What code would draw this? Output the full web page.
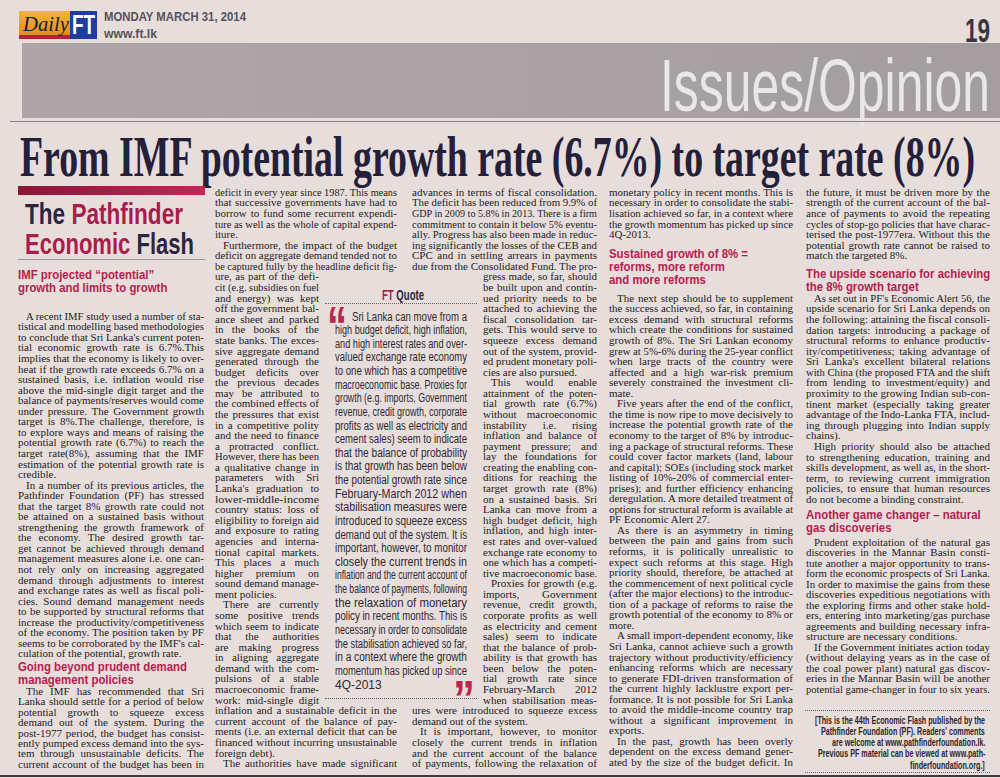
<!DOCTYPE html>
<html><head><meta charset="utf-8">
<script src="https://cdn.jsdelivr.net/npm/chart.js@4.4.1/dist/chart.umd.min.js"></script>
<style>
html,body{margin:0;padding:0;background:#e7ddda;}
#page{position:relative;width:1000px;height:778px;overflow:hidden;background:#e7ddda;}
.a{position:absolute;white-space:nowrap;transform-origin:0 50%;}
.body{font-family:"Liberation Serif","Times New Roman",serif;font-size:11px;color:#221e27;}
.hd{font-family:"Liberation Sans",Arial,sans-serif;font-weight:bold;font-size:13px;color:#b4214e;}
.qt{font-family:"Liberation Sans Narrow","Liberation Sans",Arial,sans-serif;font-size:12px;color:#2e2a33;}
.note{font-family:"Liberation Sans Narrow","Liberation Sans",Arial,sans-serif;font-weight:bold;font-size:10px;color:#2a2833;}
.box{font-family:"Liberation Sans",Arial,sans-serif;font-weight:bold;font-size:30px;color:#2b2540;}
.red{color:#a81d4a;}
.headline{font-family:"Liberation Serif","Times New Roman",serif;font-weight:bold;font-size:56px;color:#25203a;}
.sect{font-family:"Liberation Sans",Arial,sans-serif;font-size:74px;color:#ebe7e9;}
.date{font-family:"Liberation Sans",Arial,sans-serif;font-weight:bold;font-size:12.5px;color:#55515c;}
.site{font-family:"Liberation Sans",Arial,sans-serif;font-weight:bold;font-size:12px;color:#55515c;}
.pg{font-family:"Liberation Sans",Arial,sans-serif;font-weight:bold;font-size:34px;color:#38363e;}
.ftlogo{font-family:"Liberation Sans",Arial,sans-serif;font-weight:bold;font-size:28px;color:#ffffff;}
.daily{font-family:"Liberation Serif","Times New Roman",serif;font-style:italic;font-size:22px;color:#1c1a3a;}
.ftq{font-family:"Liberation Sans",Arial,sans-serif;font-weight:bold;font-size:15px;color:#2b2540;}
.qm{font-family:"Liberation Sans",Arial,sans-serif;font-weight:bold;font-size:52px;color:#b8284e;}
.rule{position:absolute;}
</style>
</head><body><div id="page"></div>
<script>
// ---------- text data ----------
const dateText = "MONDAY MARCH 31, 2014";
const siteText = "www.ft.lk";
const logoText = ["Daily", "FT"];
const pageNumber = "19";
const sectionText = "Issues/Opinion";
const headline = "From IMF potential growth rate (6.7%) to target rate (8%)";
const flashTitle1 = ["The ", "Pathfinder"];
const flashTitle2 = ["Economic ", "Flash"];

const col1Head1 = ["IMF projected “potential”", "growth and limits to growth"];
const col1Paras1 = [
 ["A recent IMF study used a number of sta-","tistical and modelling based methodologies","to conclude that Sri Lanka's current poten-","tial economic growth rate is 6.7%.This","implies that the economy is likely to over-","heat if the growth rate exceeds 6.7% on a","sustained basis, i.e. inflation would rise","above the mid-single digit target and the","balance of payments/reserves would come","under pressure. The Government growth","target is 8%.The challenge, therefore, is","to explore ways and means of raising the","potential growth rate (6.7%) to reach the","target rate(8%), assuming that the IMF","estimation of the potential growth rate is","credible."],
 ["In a number of its previous articles, the","Pathfinder Foundation (PF) has stressed","that the target 8% growth rate could not","be attained on a sustained basis without","strengthening the growth framework of","the economy. The desired growth tar-","get cannot be achieved through demand","management measures alone i.e. one can-","not rely only on increasing aggregated","demand through adjustments to interest","and exchange rates as well as fiscal poli-","cies. Sound demand management needs","to be supported by structural reforms that","increase the productivity/competitiveness","of the economy. The position taken by PF","seems to be corroborated by the IMF's cal-","culation of the potential, growth rate."]
];
const col1Head2 = ["Going beyond prudent demand", "management policies"];
const col1Paras2 = [
 ["The IMF has recommended that Sri","Lanka should settle for a period of below","potential growth to squeeze excess","demand out of the system. During the","post-1977 period, the budget has consist-","ently pumped excess demand into the sys-","tem through unsustainable deficits. The","current account of the budget has been in"]
];

const col2Paras = [
 ["deficit in every year since 1987. This means","that successive governments have had to","borrow to fund some recurrent expendi-","ture as well as the whole of capital expend-","iture."],
 ["Furthermore, the impact of the budget","deficit on aggregate demand tended not to","be captured fully by the headline deficit fig-","ure, as part of the defi-","cit (e.g. subsidies on fuel","and energy) was kept","off the government bal-","ance sheet and parked","in the books of the","state banks. The exces-","sive aggregate demand","generated through the","budget deficits over","the previous decades","may be attributed to","the combined effects of","the pressures that exist","in a competitive polity","and the need to finance","a protracted conflict.","However, there has been","a qualitative change in","parameters with Sri","Lanka's graduation to","lower-middle-income","country status: loss of","eligibility to foreign aid","and exposure to rating","agencies and interna-","tional capital markets.","This places a much","higher premium on","sound demand manage-","ment policies."],
 ["There are currently","some positive trends","which seem to indicate","that the authorities","are making progress","in aligning aggregate","demand with the com-","pulsions of a stable","macroeconomic frame-","work: mid-single digit","inflation and a sustainable deficit in the","current account of the balance of pay-","ments (i.e. an external deficit that can be","financed without incurring unsustainable","foreign debt)."],
 ["The authorities have made significant"]
];

const col3Paras = [
 ["advances in terms of fiscal consolidation.","The deficit has been reduced from 9.9% of","GDP in 2009 to 5.8% in 2013. There is a firm","commitment to contain it below 5% eventu-","ally. Progress has also been made in reduc-","ing significantly the losses of the CEB and","CPC and in settling arrears in payments","due from the Consolidated Fund. The pro-","gress made, so far, should","be built upon and contin-","ued priority needs to be","attached to achieving the","fiscal consolidation tar-","gets. This would serve to","squeeze excess demand","out of the system, provid-","ed prudent monetary poli-","cies are also pursued."],
 ["This would enable","attainment of the poten-","tial growth rate (6.7%)","without macroeconomic","instability i.e. rising","inflation and balance of","payment pressure; and","lay the foundations for","creating the enabling con-","ditions for reaching the","target growth rate (8%)","on a sustained basis. Sri","Lanka can move from a","high budget deficit, high","inflation, and high inter-","est rates and over-valued","exchange rate economy to","one which has a competi-","tive macroeconomic base."],
 ["Proxies for growth (e.g.","imports, Government","revenue, credit growth,","corporate profits as well","as electricity and cement","sales) seem to indicate","that the balance of prob-","ability is that growth has","been below the poten-","tial growth rate since","February-March 2012","when stabilisation meas-","ures were introduced to squeeze excess","demand out of the system."],
 ["It is important, however, to monitor","closely the current trends in inflation","and the current account of the balance","of payments, following the relaxation of"]
];

const quoteLines = ["Sri Lanka can move from a","high budget deficit, high inflation,","and high interest rates and over-","valued exchange rate economy","to one which has a competitive","macroeconomic base. Proxies for","growth (e.g. imports, Government","revenue, credit growth, corporate","profits as well as electricity and","cement sales) seem to indicate","that the balance of probability","is that growth has been below","the potential growth rate since","February-March 2012 when","stabilisation measures were","introduced to squeeze excess","demand out of the system. It is","important, however, to monitor","closely the current trends in","inflation and the current account of","the balance of payments, following","the relaxation of monetary","policy in recent months. This is","necessary in order to consolidate","the stabilisation achieved so far,","in a context where the growth","momentum has picked up since","4Q-2013"];
const quoteTitle = ["FT", " Quote"];
const quoteMarks = ["“", "”"];

const col4Paras1 = [["monetary policy in recent months. This is","necessary in order to consolidate the stabi-","lisation achieved so far, in a context where","the growth momentum has picked up since","4Q-2013."]];
const col4Head = ["Sustained growth of 8% =","reforms, more reform","and more reforms"];
const col4Paras2 = [
 ["The next step should be to supplement","the success achieved, so far, in containing","excess demand with structural reforms","which create the conditions for sustained","growth of 8%. The Sri Lankan economy","grew at 5%-6% during the 25-year conflict","when large tracts of the country were","affected and a high war-risk premium","severely constrained the investment cli-","mate."],
 ["Five years after the end of the conflict,","the time is now ripe to move decisively to","increase the potential growth rate of the","economy to the target of 8% by introduc-","ing a package of structural reforms. These","could cover factor markets (land, labour","and capital); SOEs (including stock market","listing of 10%-20% of commercial enter-","prises); and further efficiency enhancing","deregulation. A more detailed treatment of","options for structural reform is available at","PF Economic Alert 27."],
 ["As there is an asymmetry in timing","between the pain and gains from such","reforms, it is politically unrealistic to","expect such reforms at this stage. High","priority should, therefore, be attached at","the commencement of next political cycle","(after the major elections) to the introduc-","tion of a package of reforms to raise the","growth potential of the economy to 8% or","more."],
 ["A small import-dependent economy, like","Sri Lanka, cannot achieve such a growth","trajectory without productivity/efficiency","enhancing reforms which are necessary","to generate FDI-driven transformation of","the current highly lacklustre export per-","formance. It is not possible for Sri Lanka","to avoid the middle-income country trap","without a significant improvement in","exports."],
 ["In the past, growth has been overly","dependent on the excess demand gener-","ated by the size of the budget deficit. In"]
];

const col5Paras1 = [["the future, it must be driven more by the","strength of the current account of the bal-","ance of payments to avoid the repeating","cycles of stop-go policies that have charac-","terised the post-1977era. Without this the","potential growth rate cannot be raised to","match the targeted 8%."]];
const col5Head1 = ["The upside scenario for achieving","the 8% growth target"];
const col5Paras2 = [
 ["As set out in PF's Economic Alert 56, the","upside scenario for Sri Lanka depends on","the following: attaining the fiscal consoli-","dation targets: introducing a package of","structural reforms to enhance productiv-","ity/competitiveness; taking advantage of","Sri Lanka's excellent bilateral relations","with China (the proposed FTA and the shift","from lending to investment/equity) and","proximity to the growing Indian sub-con-","tinent market (especially taking greater","advantage of the Indo-Lanka FTA, includ-","ing through plugging into Indian supply","chains)."],
 ["High priority should also be attached","to strengthening education, training and","skills development, as well as, in the short-","term, to reviewing current immigration","policies, to ensure that human resources","do not become a binding constraint."]
];
const col5Head2 = ["Another game changer – natural","gas discoveries"];
const col5Paras3 = [
 ["Prudent exploitation of the natural gas","discoveries in the Mannar Basin consti-","tute another a major opportunity to trans-","form the economic prospects of Sri Lanka.","In order to maximise the gains from these","discoveries expeditious negotiations with","the exploring firms and other stake hold-","ers, entering into marketing/gas purchase","agreements and building necessary infra-","structure are necessary conditions."],
 ["If the Government initiates action today","(without delaying years as in the case of","the coal power plant) natural gas discov-","eries in the Mannar Basin will be another","potential game-changer in four to six years."]
];
const col5Note = ["[This is the 44th Economic Flash published by the","Pathfinder Foundation (PF). Readers' comments","are welcome at www.pathfinderfoundation.lk.","Previous PF material can be viewed at www.path-","finderfoundation.org.]"];

// ---------- layout ----------
const page = document.getElementById('page');
function rect(x,y,w,h,css){const d=document.createElement('div');d.className='rule';d.style.left=x+'px';d.style.top=y+'px';d.style.width=w+'px';d.style.height=h+'px';Object.assign(d.style,css||{});page.appendChild(d);return d;}
function put(parts, x, yc, lh, cls){
  const d=document.createElement('div');d.className='a '+cls;
  d.style.left=x+'px';d.style.top=(yc-lh/2)+'px';d.style.lineHeight=lh+'px';d.style.height=lh+'px';
  const s=document.createElement('span');
  (Array.isArray(parts)?parts:[[parts,'']]).forEach(p=>{const e=document.createElement('span');e.textContent=p[0];if(p[1])e.className=p[1];s.appendChild(e);});
  d.appendChild(s);page.appendChild(d);
  return {d,s,nat:s.getBoundingClientRect().width};
}
function fitLine(text,x,yc,w,cls,mode,lh,k){
  const r=put(text,x,yc,lh,cls);
  const n=(typeof text==='string')?(text.match(/ /g)||[]).length:0;
  if(mode==='justify'){
    if(r.nat>w||n===0){r.d.style.transform='scaleX('+(w/r.nat)+')';}
    else r.s.style.wordSpacing=((w-r.nat)/n)+'px';
  }else if(mode==='left'){
    if(r.nat>w) r.d.style.transform='scaleX('+(w/r.nat)+')';
  }else if(mode==='fit'){
    r.d.style.transform='scaleX('+(w/r.nat)+')';
  }else if(mode==='scale'){
    r.d.style.transform='scaleX('+k+')';
  }else if(mode==='right'){
    r.d.style.left=(x+w-r.nat*k)+'px';r.d.style.transform='scaleX('+k+')';
  }
  r.d.style.width=r.nat+'px';
  return r;
}
function bodyBlock(paras,y0,lh,geom,opt){
  let i=0;
  paras.forEach((p,pi)=>{p.forEach((t,li)=>{
    const g=geom(i);
    const first=li===0&&!(pi===0&&opt.contStart);
    const last=li===p.length-1&&!(pi===paras.length-1&&opt.contEnd);
    const ind=first?8:0;
    fitLine(t,g[0]+ind,y0+i*lh-1,g[1]-ind,'body',last?'left':'justify',lh-0.2);
    i++;
  });});
}
const LH=10.58;
const probe=put("Going beyond prudent demand",-2000,0,12,'hd');const HK=169/probe.nat;probe.d.remove();
function heads(lines,x,ys){lines.forEach((t,i)=>fitLine(t,x,ys[i],0,'hd','scale',11.5,HK));}

// masthead
rect(19,11,51,24,{background:'linear-gradient(#f2b632,#df8f1c)'});
rect(19,35,51,4,{background:'#b42236'});
rect(70,11,27,28,{background:'#1f3d9e'});
fitLine(logoText[0],23,24,46,'daily','fit',22);
fitLine(logoText[1],72,25,23,'ftlogo','fit',24);
fitLine(dateText,104,16.5,142,'date','fit',12);
fitLine(siteText,104,34,53,'site','fit',11);
fitLine(pageNumber,965,30,25,'pg','fit',28);
rect(22,43,978,75,{background:'linear-gradient(90deg,#aca6a8,#a8a2a5 60%,#a39da0)'});
fitLine(sectionText,660,85.5,330,'sect','fit',58);
rect(10,121,990,1,{background:'#8a8488'});
fitLine(headline,20,156.5,955,'headline','fit',48);

// column 1
rect(18,186,187,9,{background:'linear-gradient(90deg,#8c1436,#c8245a)'});
fitLine([[flashTitle1[0],''],[flashTitle1[1],'red']],25,213.5,158,'box','fit',28);
fitLine([[flashTitle2[0],'red'],[flashTitle2[1],'']],25,243.5,169,'box','fit',28);
rect(18,259,187,1,{background:'#9a9496'});
heads(col1Head1,18,[275,288]);
bodyBlock(col1Paras1,317,10.55,()=>[18,186],{});
heads(col1Head2,18,[667,679.5]);
bodyBlock(col1Paras2,692,10.4,()=>[18,186],{contEnd:true});

// column 2
bodyBlock(col2Paras,193,LH,i=>(i<8||i>=49)?[215,182]:[215,104],{contStart:true,contEnd:true});
// column 3
bodyBlock(col3Paras,193,LH,i=>(i<8||i>=49)?[412,185]:[483,114],{contStart:true,contEnd:true});

// FT quote box
fitLine([[quoteTitle[0],'red'],[quoteTitle[1],'']],382,295,42,'ftq','fit',14);
rect(325,303,152,0,{borderTop:'1px dotted #6a6468'});
rect(325,698,152,0,{borderTop:'1px dotted #6a6468'});
fitLine(quoteMarks[0],327,325,20,'qm','fit',18);
fitLine(quoteMarks[1],453,699,22,'qm','fit',18);
const QLH=13.63;
quoteLines.forEach((t,i)=>{
  const x=i===0?352:335, w=i===0?115:132;
  fitLine(t,x,317+i*QLH,w,'qt',i===quoteLines.length-1?'left':'justify',13);
});

// column 4
bodyBlock(col4Paras1,193,LH,()=>[609,184],{contStart:true});
heads(col4Head,609,[254,267,280]);
bodyBlock(col4Paras2,299,10.55,()=>[609,184],{contEnd:true});

// column 5
bodyBlock(col5Paras1,193,LH,()=>[806,184],{contStart:true});
heads(col5Head1,806,[274,287]);
bodyBlock(col5Paras2,299,LH,()=>[806,184],{});
heads(col5Head2,806,[515,528]);
bodyBlock(col5Paras3,543,10.5,()=>[806,184],{});
rect(805,710,185,0,{borderTop:'1px dotted #6a6468'});
const np=put(col5Note[0],-2000,0,11,'note');const NK=170/np.nat;np.d.remove();
col5Note.forEach((t,i)=>fitLine(t,805,720+i*11.3,180,'note','right',11,NK));
rect(805,772,185,0,{borderTop:'1px dotted #6a6468'});

// bottom rule
rect(0,775,1000,2,{background:'#3e3a40'});
</script>
</body></html>
